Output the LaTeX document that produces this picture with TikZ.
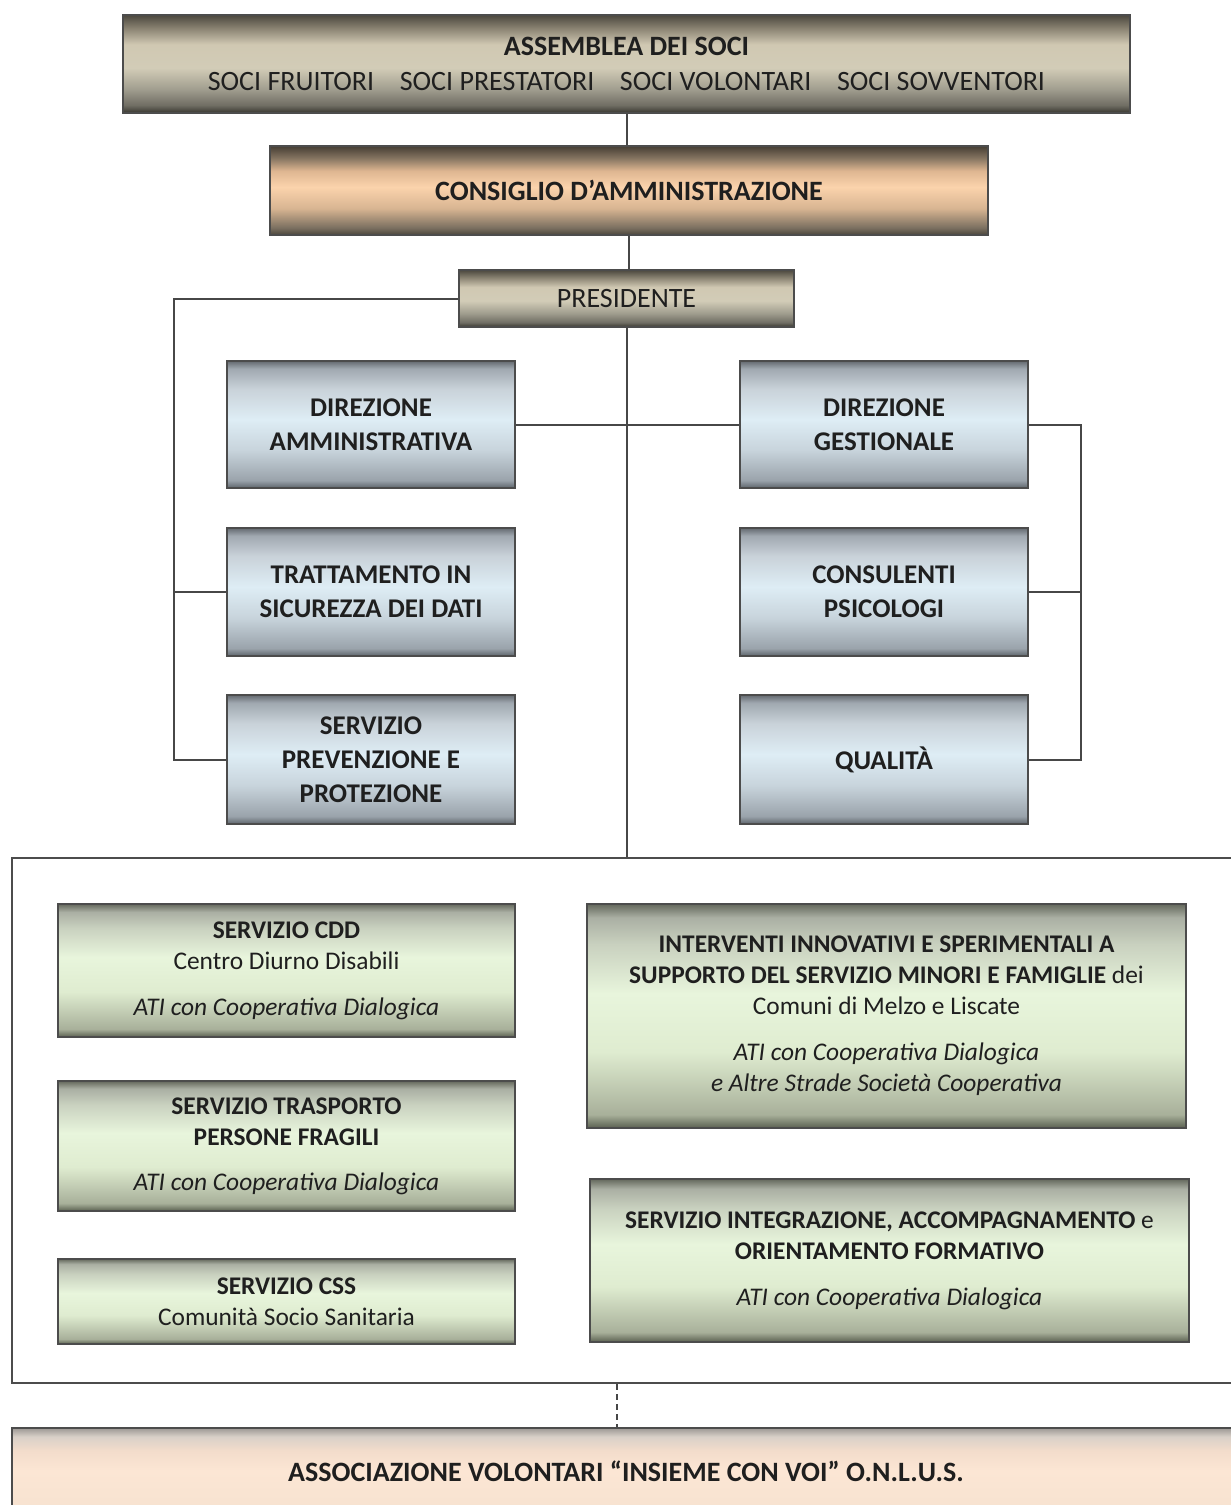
\documentclass[tikz,border=0pt]{standalone}
\usepackage{fontspec}
\setmainfont{Carlito}
\usepackage{tikz}
\usetikzlibrary{positioning,calc}
\def\BlueW{144pt}
\def\BlueH{64pt}
\def\GreenW{228.5pt}
\def\BigFont{\fontsize{14}{17.5}\selectfont}
\def\BlueFont{\fontsize{13.5}{17}\selectfont}
\def\GreenFont{\fontsize{12.7}{15.5}\selectfont}
\pgfdeclareverticalshading{grayshade}{100bp}{color(0bp)=(black!70); color(25bp)=(black!70);
  color(26bp)=({rgb,255:red,70;green,68;blue,60}); color(29bp)=({rgb,255:red,112;green,110;blue,100});
  color(37bp)=({rgb,255:red,160;green,157;blue,142}); color(48bp)=({rgb,255:red,210;green,204;blue,183});
  color(60bp)=({rgb,255:red,208;green,200;blue,178}); color(68bp)=({rgb,255:red,140;green,133;blue,116});
  color(75bp)=({rgb,255:red,76;green,72;blue,62}); color(100bp)=(black!70)}
\pgfdeclareverticalshading{peachshade}{100bp}{color(0bp)=(black!70); color(25bp)=({rgb,255:red,74;green,69;blue,60});
  color(29bp)=({rgb,255:red,122;green,111;blue,96}); color(40bp)=({rgb,255:red,216;green,181;blue,146});
  color(52bp)=({rgb,255:red,251;green,211;blue,172}); color(61bp)=({rgb,255:red,222;green,182;blue,145});
  color(68bp)=({rgb,255:red,135;green,118;blue,98}); color(75bp)=({rgb,255:red,70;green,62;blue,52}); color(100bp)=(black!70)}
\pgfdeclareverticalshading{blueshade}{100bp}{color(0bp)=(black!70); color(25bp)=({rgb,255:red,93;green,100;blue,107});
  color(28bp)=({rgb,255:red,154;green,163;blue,171}); color(40bp)=({rgb,255:red,200;green,212;blue,220});
  color(52bp)=({rgb,255:red,222;green,237;blue,245}); color(64bp)=({rgb,255:red,201;green,210;blue,217});
  color(72bp)=({rgb,255:red,160;green,168;blue,176}); color(75bp)=({rgb,255:red,100;green,106;blue,112}); color(100bp)=(black!70)}
\pgfdeclareverticalshading{greenshade}{100bp}{color(0bp)=(black!70); color(25bp)=({rgb,255:red,90;green,96;blue,80});
  color(28bp)=({rgb,255:red,168;green,176;blue,154}); color(42bp)=({rgb,255:red,223;green,236;blue,208});
  color(55bp)=({rgb,255:red,232;green,245;blue,220}); color(66bp)=({rgb,255:red,201;green,209;blue,191});
  color(72bp)=({rgb,255:red,170;green,175;blue,163}); color(75bp)=({rgb,255:red,100;green,104;blue,92}); color(100bp)=(black!70)}
\pgfdeclareverticalshading{onlusshade}{100bp}{color(0bp)=(white); color(25bp)=({rgb,255:red,246;green,226;blue,208});
  color(50bp)=({rgb,255:red,252;green,230;blue,212}); color(62bp)=({rgb,255:red,243;green,220;blue,203});
  color(70bp)=({rgb,255:red,216;green,208;blue,200}); color(75bp)=({rgb,255:red,156;green,152;blue,148}); color(100bp)=(black!70)}
\tikzset{
  box/.style={draw=black!70, line width=1pt, align=center, inner sep=0pt, text=black!88, shade},
  graybox/.style={box, shading=grayshade, font=\BigFont},
  peachbox/.style={box, shading=peachshade, font=\BigFont\bfseries},
  bluebox/.style={box, shading=blueshade, font=\BlueFont\bfseries, minimum width=\BlueW, minimum height=\BlueH},
  greenbox/.style={box, shading=greenshade, font=\GreenFont},
  link/.style={draw=black!72, line width=1pt},
}

\begin{document}
\begin{tikzpicture}[x=0.5pt,y=-0.5pt]
  \useasboundingbox (0,0) rectangle (1231,1505);
  \clip (0,0) rectangle (1231,1505);
  % vertici
  \node[graybox, minimum width=503.5pt, minimum height=49pt] (asm) at (626.5,64)
    {\textbf{ASSEMBLEA DEI SOCI}\\SOCI FRUITORI\hspace{12.8pt}SOCI PRESTATORI\hspace{12.8pt}SOCI VOLONTARI\hspace{12.8pt}SOCI SOVVENTORI};
  \node[peachbox, minimum width=359pt, minimum height=44.5pt] (cda) at (629,190.5) {CONSIGLIO D'AMMINISTRAZIONE};
  \node[graybox, minimum width=167.5pt, minimum height=28.5pt] (pres) at (626.5,298.5) {PRESIDENTE};
  % direzione
  \node[bluebox, minimum height=63.5pt] (dam) at (371,424.5) {DIREZIONE\\AMMINISTRATIVA};
  \node[bluebox, below=19pt of dam] (tsd) {TRATTAMENTO IN\\SICUREZZA DEI DATI};
  \node[bluebox, below=18.5pt of tsd, minimum height=64.5pt] (spp) {SERVIZIO\\PREVENZIONE E\\PROTEZIONE};
  \node[bluebox, minimum height=63.5pt] (dge) at (884,424.5) {DIREZIONE\\GESTIONALE};
  \node[bluebox, below=19pt of dge] (cps) {CONSULENTI\\PSICOLOGI};
  \node[bluebox, below=18.5pt of cps, minimum height=64.5pt] (qua) {QUALIT\`A};
  % servizi
  \node[draw=black!70, line width=1.2pt, minimum width=614pt, minimum height=262.5pt] (frame) at (626,1120.5) {};
  \node[greenbox, minimum width=\GreenW, minimum height=66.5pt] (cdd) at (286.5,970.5)
    {\textbf{SERVIZIO CDD}\\Centro Diurno Disabili\\[7.5pt]\textit{ATI con Cooperativa Dialogica}};
  \node[greenbox, below=21pt of cdd, minimum width=\GreenW, minimum height=65pt] (tra)
    {\textbf{SERVIZIO TRASPORTO}\\\textbf{PERSONE FRAGILI}\\[7pt]\textit{ATI con Cooperativa Dialogica}};
  \node[greenbox, below=23pt of tra, minimum width=\GreenW, minimum height=42.5pt] (css)
    {\textbf{SERVIZIO CSS}\\Comunit\`a Socio Sanitaria};
  \node[greenbox, minimum width=299.5pt, minimum height=112pt] (int) at (886.5,1016)
    {\textbf{INTERVENTI INNOVATIVI E SPERIMENTALI A}\\\textbf{SUPPORTO DEL SERVIZIO MINORI E FAMIGLIE} dei\\Comuni di Melzo e Liscate\\[7.5pt]
     \textit{ATI con Cooperativa Dialogica}\\\textit{e Altre Strade Societ\`a Cooperativa}};
  \node[greenbox, below=24.5pt of int, xshift=1.5pt, minimum width=299.5pt, minimum height=81.5pt] (ing)
    {\textbf{SERVIZIO INTEGRAZIONE, ACCOMPAGNAMENTO} e\\\textbf{ORIENTAMENTO FORMATIVO}\\[7.5pt]\textit{ATI con Cooperativa Dialogica}};
  \node[box, shading=onlusshade, font=\BigFont\bfseries, minimum width=614pt, minimum height=43pt] (onlus) at (626,1471)
    {ASSOCIAZIONE VOLONTARI “INSIEME CON VOI” O.N.L.U.S.};
  % collegamenti
  \draw[link] (asm.south) -- (asm.south |- cda.north);
  \draw[link] (cda.south) -- (cda.south |- pres.north);
  \draw[link] (pres.south) -- (pres.south |- frame.north);
  \draw[link] (dam.east) -- (dge.west);
  \draw[link] (pres.west) -| ([xshift=-26pt]spp.west) -- (spp.west);
  \draw[link] (tsd.west) -- ++(-26pt,0);
  \draw[link] (dge.east) -- ++(26pt,0) |- (qua.east);
  \draw[link] (cps.east) -- ++(26pt,0);
  \draw[link, densely dashed] ([xshift=-4.5pt]frame.south) -- ([xshift=-4.5pt]onlus.north);
\end{tikzpicture}
\end{document}
